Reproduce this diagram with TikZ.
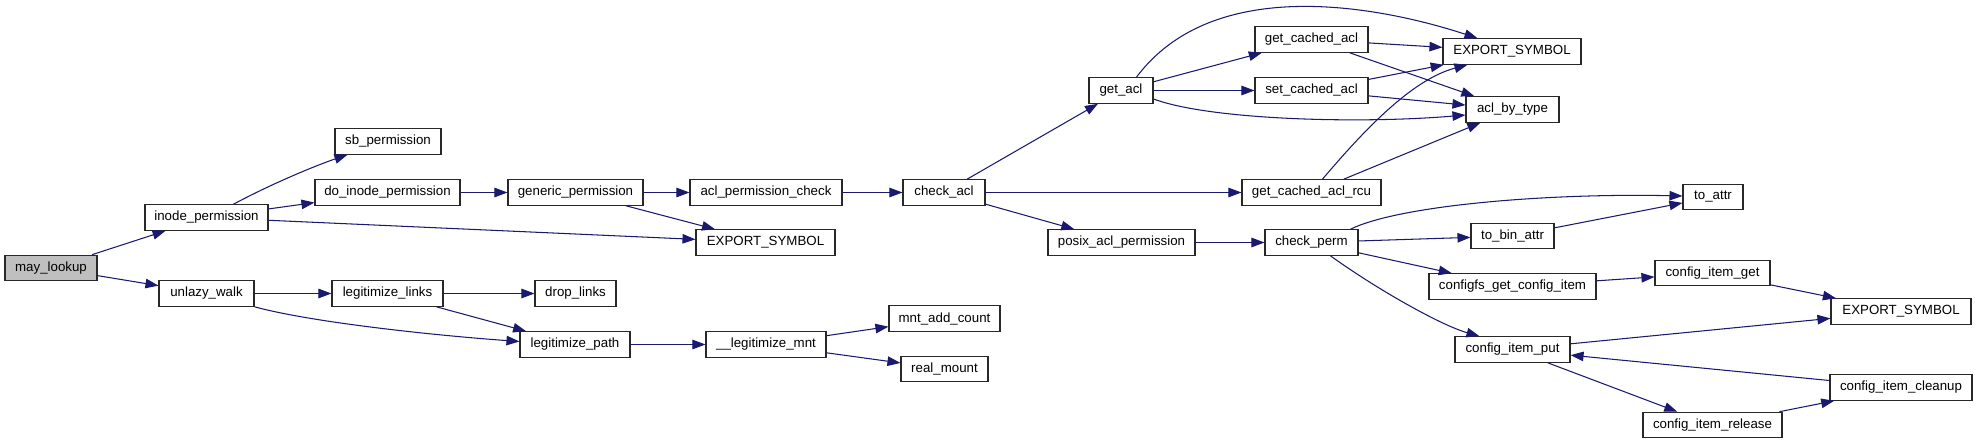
\documentclass[tikz,border=0pt]{standalone}
\usepackage{fontspec}
\setmainfont{Liberation Sans}
\usetikzlibrary{arrows.meta}
\definecolor{edgec}{RGB}{25,25,112}
\definecolor{boxc}{RGB}{40,40,40}
\definecolor{rootc}{RGB}{191,191,191}
\begin{document}
\begin{tikzpicture}[x=1pt,y=-1pt,
  fn/.style={draw=boxc, line width=1.1pt, fill=white, minimum height=25.5pt, inner sep=0pt, font=\fontsize{13.3}{15}\selectfont, anchor=center},
  root/.style={fn, fill=rootc},
  call/.style={draw=edgec, line width=1.05pt, -{Triangle[length=13pt,width=9.5pt]}}]
\useasboundingbox (0,0) rectangle (1977,444);
\fill[white] (0,0) rectangle (1977,444);
% nodes
\node[root, minimum width=92]  (ml)   at (51,268)     {may\_lookup};
\node[fn, minimum width=123]   (ip)   at (206.5,217.5) {inode\_permission};
\node[fn, minimum width=106]   (sb)   at (388,141.5)  {sb\_permission};
\node[fn, minimum width=145]   (dip)  at (387.5,192.5)  {do\_inode\_permission};
\node[fn, minimum width=135]   (gp)   at (575.5,192.5)  {generic\_permission};
\node[fn, minimum width=95]    (uw)   at (206.5,293.5) {unlazy\_walk};
\node[fn, minimum width=111]   (ll)   at (387.5,293.5) {legitimize\_links};
\node[fn, minimum width=81]    (dl)   at (575.5,293.5) {drop\_links};
\node[fn, minimum width=110]   (lp)   at (575,344.5)    {legitimize\_path};
\node[fn, minimum width=120]   (lm)   at (766,344.5)    {\_\_legitimize\_mnt};
\node[fn, minimum width=111]   (mac)  at (944.5,318.5) {mnt\_add\_count};
\node[fn, minimum width=87]    (rm)   at (944.5,369)  {real\_mount};
\node[fn, minimum width=152]   (apc)  at (766,192.5)    {acl\_permission\_check};
\node[fn, minimum width=139]   (esa)  at (765.5,242.5) {EXPORT\_SYMBOL};
\node[fn, minimum width=82]    (ca)   at (944,192.5)    {check\_acl};
\node[fn, minimum width=64]    (ga)   at (1121,90.5)  {get\_acl};
\node[fn, minimum width=113]   (gca)  at (1311.5,39.5) {get\_cached\_acl};
\node[fn, minimum width=113]   (sca)  at (1311.5,90.5) {set\_cached\_acl};
\node[fn, minimum width=139]   (gcar) at (1311.5,192.5) {get\_cached\_acl\_rcu};
\node[fn, minimum width=147]   (pap)  at (1121.5,242.5) {posix\_acl\_permission};
\node[fn, minimum width=93]    (cp)   at (1311.5,242.5) {check\_perm};
\node[fn, minimum width=138]   (esb)  at (1512,51.5)  {EXPORT\_SYMBOL};
\node[fn, minimum width=93]    (abt)  at (1512.5,109.5) {acl\_by\_type};
\node[fn, minimum width=60]    (ta)   at (1713,197)   {to\_attr};
\node[fn, minimum width=83]    (tba)  at (1512.5,236) {to\_bin\_attr};
\node[fn, minimum width=167]   (cgci) at (1512.5,286.5) {configfs\_get\_config\_item};
\node[fn, minimum width=115]   (cig)  at (1712.5,273) {config\_item\_get};
\node[fn, minimum width=140]   (esc)  at (1901,311.5) {EXPORT\_SYMBOL};
\node[fn, minimum width=115]   (cip)  at (1512.5,349.5) {config\_item\_put};
\node[fn, minimum width=142]   (cic)  at (1901,387.5) {config\_item\_cleanup};
\node[fn, minimum width=139]   (cir)  at (1712.5,425) {config\_item\_release};
% edges
\draw[call] (ml) -- (ip);
\draw[call] (ml) -- (uw);
\draw[call] ([xshift=89]ip.north west) .. controls (275,182) and (320,164) .. ([xshift=13]sb.south west);
\draw[call] (ip) -- (dip);
\draw[call] (ip) -- (esa);
\draw[call] (dip) -- (gp);
\draw[call] (gp) -- (apc);
\draw[call] (gp) -- (esa);
\draw[call] (uw) -- (ll);
\draw[call] (uw.south east) .. controls (310,322) and (430,335) .. ([yshift=3]lp.west);
\draw[call] (ll) -- (dl);
\draw[call] (ll) -- (lp);
\draw[call] (lp) -- (lm);
\draw[call] (lm) -- (mac);
\draw[call] (lm) -- (rm);
\draw[call] (apc) -- (ca);
\draw[call] (ca) -- (ga);
\draw[call] (ca) -- (gcar);
\draw[call] (ca) -- (pap);
\draw[call] ([xshift=48]ga.north west) .. controls (1215,-28) and (1385,8) .. ([xshift=35]esb.north west);
\draw[call] (ga) -- (gca);
\draw[call] (ga) -- (sca);
\draw[call] ([yshift=-8.5]ga.east) .. controls (1210,120) and (1360,124) .. ([yshift=-5.5]abt.west);
\draw[call] (gca) -- (esb);
\draw[call] (gca) -- (abt);
\draw[call] (sca) -- (esb);
\draw[call] (sca) -- (abt);
\draw[call] ([xshift=81]gcar.north west) .. controls (1360,135) and (1410,80) .. ([xshift=25]esb.south west);
\draw[call] (gcar) -- (abt);
\draw[call] (pap) -- (cp);
\draw[call] ([xshift=86]cp.north west) .. controls (1400,205) and (1550,193) .. ([yshift=1]ta.west);
\draw[call] (cp) -- (tba);
\draw[call] (cp) -- (cgci);
\draw[call] ([xshift=66]cp.south west) .. controls (1375,288) and (1440,325) .. ([xshift=25]cip.north west);
\draw[call] (tba) -- (ta);
\draw[call] (cgci) -- (cig);
\draw[call] (cig) -- (esc);
\draw[call] (cip) -- (esc);
\draw[call] (cip) -- (cir);
\draw[call] (cir) -- (cic);
\draw[call] (cic) -- (cip);
\end{tikzpicture}
\end{document}
